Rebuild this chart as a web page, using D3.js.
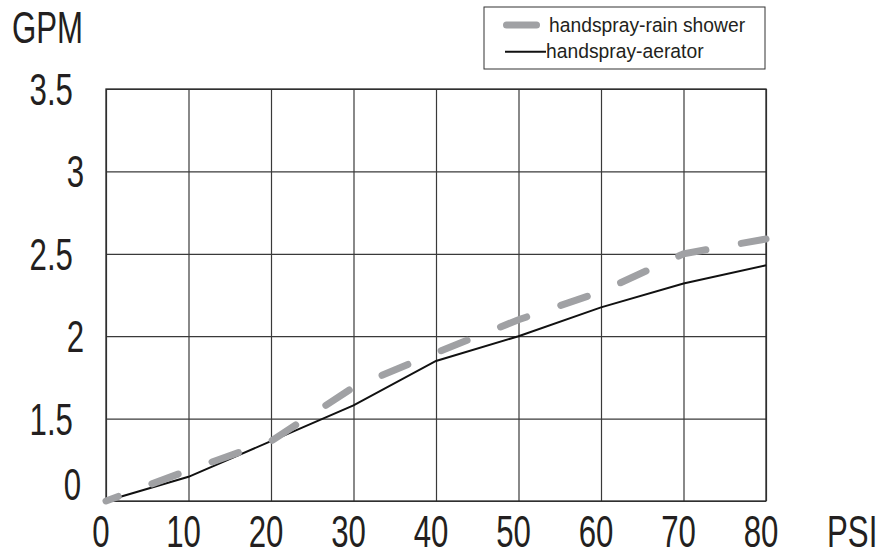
<!DOCTYPE html>
<html>
<head>
<meta charset="utf-8">
<script src="https://cdn.jsdelivr.net/npm/d3@7"></script>
<style>
  body { margin: 0; background: #fff; }
  svg text { font-family: "Liberation Sans", Arial, sans-serif; fill: #231f20; }
</style>
</head>
<body>
<svg width="881" height="551"></svg>
<script>
const psi = [0, 10, 20, 30, 40, 50, 60, 70, 80];
const rainShower = [0, 0.56, 1.09, 1.69, 1.90, 2.10, 2.27, 2.50, 2.59];
const aerator = [0, 0.44, 1.09, 1.58, 1.85, 2.0, 2.175, 2.32, 2.43];
const yTicks = [0, 1.5, 2, 2.5, 3, 3.5];
const seriesNames = ['handspray-rain shower', 'handspray-aerator'];

const svg = d3.select('svg');
const plotLeft = 106, plotRight = 766, plotTop = 89, plotBottom = 501;

const x = d3.scaleLinear().domain([0, 80]).range([plotLeft, plotRight]);
// axis is broken between 0 and 1.5, so the first band is as tall as a 0.5 band
const y = d3.scaleLinear().domain([0, 1.5, 3.5]).range([plotBottom, 418.6, plotTop]);

const sx = 0.71; // condensed look for the big labels

// grid
svg.append('g')
  .attr('transform', `translate(0,${plotBottom})`)
  .call(d3.axisBottom(x).tickValues(psi).tickSize(-(plotBottom - plotTop)).tickFormat(''))
  .call(g => g.select('.domain').remove())
  .call(g => g.selectAll('line').attr('stroke', '#3a3a3a').attr('stroke-width', 1.2));

svg.append('g')
  .attr('transform', `translate(${plotLeft},0)`)
  .call(d3.axisLeft(y).tickValues(yTicks).tickSize(-(plotRight - plotLeft)).tickFormat(''))
  .call(g => g.select('.domain').remove())
  .call(g => g.selectAll('line').attr('stroke', '#3a3a3a').attr('stroke-width', 1.2));

svg.append('rect')
  .attr('x', plotLeft).attr('y', plotTop)
  .attr('width', plotRight - plotLeft).attr('height', plotBottom - plotTop)
  .attr('fill', 'none').attr('stroke', '#2a2a2a').attr('stroke-width', 1.3);

// x tick labels
svg.append('g').selectAll('text')
  .data(psi)
  .enter()
  .append('text')
  .attr('transform', d => `translate(${x(d) - 5},547) scale(${sx},1)`)
  .attr('text-anchor', 'middle')
  .style('font-size', '44px')
  .text(d => d);

// y tick labels
svg.append('g').selectAll('text')
  .data(yTicks)
  .enter()
  .append('text')
  .attr('transform', d => {
    const xr = d === 0 ? 81 : (String(d).includes('.') ? 73 : 84);
    const yb = d === 0 ? plotBottom - 1 : y(d) + 16;
    return `translate(${xr},${yb}) scale(${sx},1)`;
  })
  .attr('text-anchor', 'end')
  .style('font-size', '44px')
  .text(d => d);

svg.append('text')
  .attr('transform', `translate(12,43) scale(${sx},1)`)
  .style('font-size', '44px')
  .text('GPM');

svg.append('text')
  .attr('transform', `translate(827,547) scale(${sx},1)`)
  .style('font-size', '44px')
  .text('PSI');

// lines
const line = d3.line()
  .x((d, i) => x(psi[i]))
  .y(d => y(d));

svg.append('path')
  .datum(aerator)
  .attr('d', line)
  .attr('fill', 'none')
  .attr('stroke', '#111')
  .attr('stroke-width', 2);

svg.append('path')
  .datum(rainShower)
  .attr('d', line)
  .attr('fill', 'none')
  .attr('stroke', '#a0a1a4')
  .attr('stroke-width', 7)
  .attr('stroke-linecap', 'round')
  .attr('stroke-dasharray', '28,36')
  .attr('stroke-dashoffset', 15);

// legend
const legend = svg.append('g');
legend.append('rect')
  .attr('x', 484).attr('y', 7)
  .attr('width', 281).attr('height', 62)
  .attr('fill', '#fff').attr('stroke', '#333').attr('stroke-width', 1);
legend.append('line')
  .attr('x1', 506.5).attr('x2', 536.5).attr('y1', 25).attr('y2', 25)
  .attr('stroke', '#a0a1a4').attr('stroke-width', 7).attr('stroke-linecap', 'round');
legend.append('line')
  .attr('x1', 505).attr('x2', 546).attr('y1', 51.7).attr('y2', 51.7)
  .attr('stroke', '#111').attr('stroke-width', 2);
legend.selectAll('text.lg')
  .data(seriesNames)
  .enter()
  .append('text')
  .attr('class', 'lg')
  .attr('x', (d, i) => i === 0 ? 549 : 546)
  .attr('y', (d, i) => i === 0 ? 31.8 : 57.5)
  .style('font-size', '19.3px')
  .text(d => d);
</script>
</body>
</html>
